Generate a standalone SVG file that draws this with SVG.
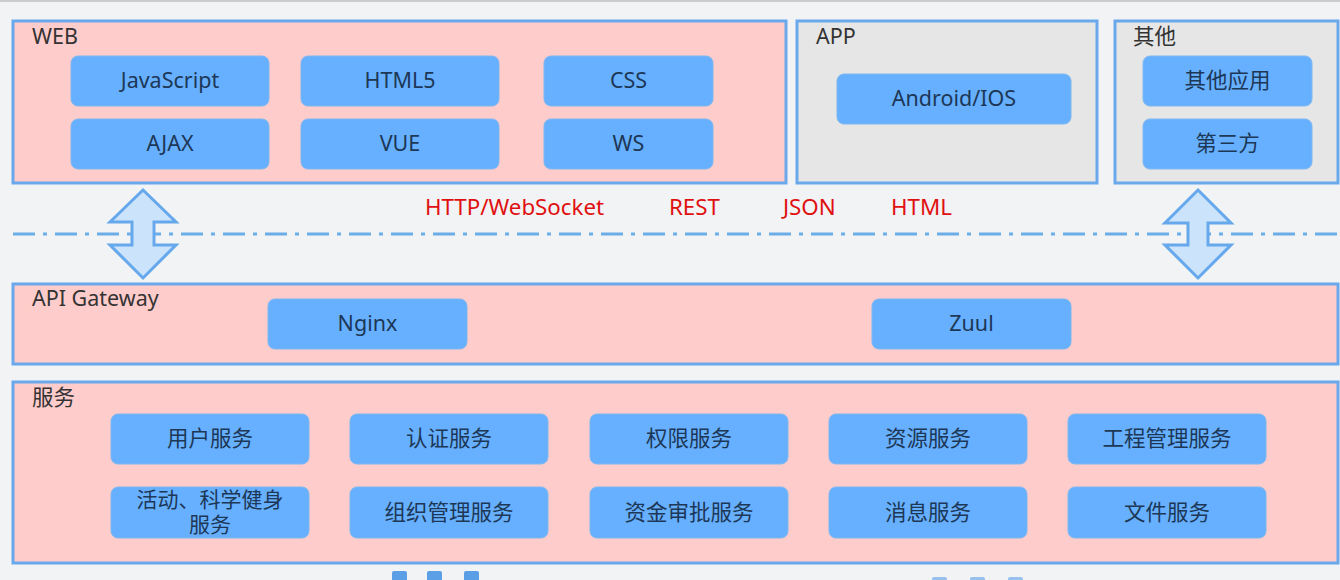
<svg xmlns="http://www.w3.org/2000/svg" width="1340" height="580" viewBox="0 0 1340 580">
<style>
text{font-family:"Noto Sans","Noto Sans CJK SC",sans-serif;font-size:21.5px}
.grp{stroke:#6aa8ec;stroke-width:3}
.pink{fill:#ffcccc}
.gray{fill:#e6e6e6}
.title{fill:#333333}
.node rect{fill:#66b0ff;stroke:#7db8f0;stroke-width:1}
.node text{fill:#1d3756;text-anchor:middle}
.node text.tight{font-family:"Liberation Sans","Noto Sans CJK SC",sans-serif;font-size:21px}
.red{fill:#e01010;font-size:22.3px}
.arrow{fill:#cce4fb;stroke:#66a8ec;stroke-width:3;stroke-linejoin:miter}
.sq{fill:#5b9fe6}
</style>
<rect x="0" y="0" width="1340" height="580" fill="#f2f3f5"/>
<line x1="0" y1="1" x2="1340" y2="1" stroke="#cccccc" stroke-width="2"/>

<g id="web">
<rect class="grp pink" x="13" y="21" width="773" height="162"/>
<text class="title" x="32" y="44">WEB</text>
</g>
<g id="app">
<rect class="grp gray" x="797" y="21" width="300" height="162"/>
<text class="title" x="816" y="44">APP</text>
</g>
<g id="other">
<rect class="grp gray" x="1115" y="21" width="223" height="162"/>
<text class="title" x="1133" y="44">其他</text>
</g>
<g id="gateway">
<rect class="grp pink" x="13" y="284" width="1325" height="80"/>
<text class="title" x="32" y="306">API Gateway</text>
</g>
<g id="services">
<rect class="grp pink" x="13" y="382" width="1325" height="181"/>
<text class="title" x="32" y="405">服务</text>
</g>

<g id="n-js" class="node"><rect x="71" y="56" width="198" height="50" rx="7"/><text x="170" y="88">JavaScript</text></g>
<g id="n-html5" class="node"><rect x="301" y="56" width="198" height="50" rx="7"/><text x="400" y="88">HTML5</text></g>
<g id="n-css" class="node"><rect x="544" y="56" width="169" height="50" rx="7"/><text x="628.5" y="88">CSS</text></g>
<g id="n-ajax" class="node"><rect x="71" y="119" width="198" height="50" rx="7"/><text x="170" y="151">AJAX</text></g>
<g id="n-vue" class="node"><rect x="301" y="119" width="198" height="50" rx="7"/><text x="400" y="151">VUE</text></g>
<g id="n-ws" class="node"><rect x="544" y="119" width="169" height="50" rx="7"/><text x="628.5" y="151">WS</text></g>
<g id="n-android" class="node"><rect x="837" y="74" width="234" height="50" rx="7"/><text x="954" y="106">Android/IOS</text></g>
<g id="n-otherapp" class="node"><rect x="1143" y="56" width="169" height="50" rx="7"/><text x="1227.5" y="88">其他应用</text></g>
<g id="n-third" class="node"><rect x="1143" y="119" width="169" height="50" rx="7"/><text x="1227.5" y="151">第三方</text></g>
<g id="n-nginx" class="node"><rect x="268" y="299" width="199" height="50" rx="7"/><text x="367.5" y="331">Nginx</text></g>
<g id="n-zuul" class="node"><rect x="872" y="299" width="199" height="50" rx="7"/><text x="971.5" y="331">Zuul</text></g>

<g id="s-user" class="node"><rect x="111" y="414" width="198" height="50" rx="7"/><text x="210" y="446">用户服务</text></g>
<g id="s-auth" class="node"><rect x="350" y="414" width="198" height="50" rx="7"/><text x="449" y="446">认证服务</text></g>
<g id="s-perm" class="node"><rect x="590" y="414" width="198" height="50" rx="7"/><text x="689" y="446">权限服务</text></g>
<g id="s-res" class="node"><rect x="829" y="414" width="198" height="50" rx="7"/><text x="928" y="446">资源服务</text></g>
<g id="s-proj" class="node"><rect x="1068" y="414" width="198" height="50" rx="7"/><text x="1167" y="446">工程管理服务</text></g>
<g id="s-act" class="node"><rect x="111" y="487" width="198" height="51" rx="7"/><text class="tight" x="210" y="507">活动、科学健身</text><text class="tight" x="210" y="532">服务</text></g>
<g id="s-org" class="node"><rect x="350" y="487" width="198" height="51" rx="7"/><text x="449" y="520">组织管理服务</text></g>
<g id="s-fund" class="node"><rect x="590" y="487" width="198" height="51" rx="7"/><text x="689" y="520">资金审批服务</text></g>
<g id="s-msg" class="node"><rect x="829" y="487" width="198" height="51" rx="7"/><text x="928" y="520">消息服务</text></g>
<g id="s-file" class="node"><rect x="1068" y="487" width="198" height="51" rx="7"/><text x="1167" y="520">文件服务</text></g>

<g id="connectors">
<line x1="13" y1="234" x2="1340" y2="234" stroke="#6aaee8" stroke-width="3" stroke-dasharray="22,8,4,8"/>
<path class="arrow" d="M143,190 L176,222 L154,222 L154,245 L176,245 L143,278 L110,245 L132,245 L132,222 L110,222 Z"/>
<path class="arrow" d="M1198,190 L1231,223 L1208,223 L1208,245 L1231,245 L1198,278 L1165,245 L1188,245 L1188,223 L1165,223 Z"/>
</g>

<g id="protocols">
<text class="red" x="425" y="215">HTTP/WebSocket</text>
<text class="red" x="669" y="215">REST</text>
<text class="red" x="783" y="215">JSON</text>
<text class="red" x="891" y="215">HTML</text>
</g>

<g id="bottom-marks">
<rect class="sq" x="392" y="571" width="15" height="12" rx="2"/>
<rect class="sq" x="427" y="571" width="15" height="12" rx="2"/>
<rect class="sq" x="464" y="571" width="15" height="12" rx="2"/>
<rect class="sq" x="932" y="577" width="15" height="8" rx="2" opacity="0.6"/>
<rect class="sq" x="970" y="577" width="15" height="8" rx="2" opacity="0.6"/>
<rect class="sq" x="1008" y="577" width="15" height="8" rx="2" opacity="0.6"/>
</g>
</svg>
